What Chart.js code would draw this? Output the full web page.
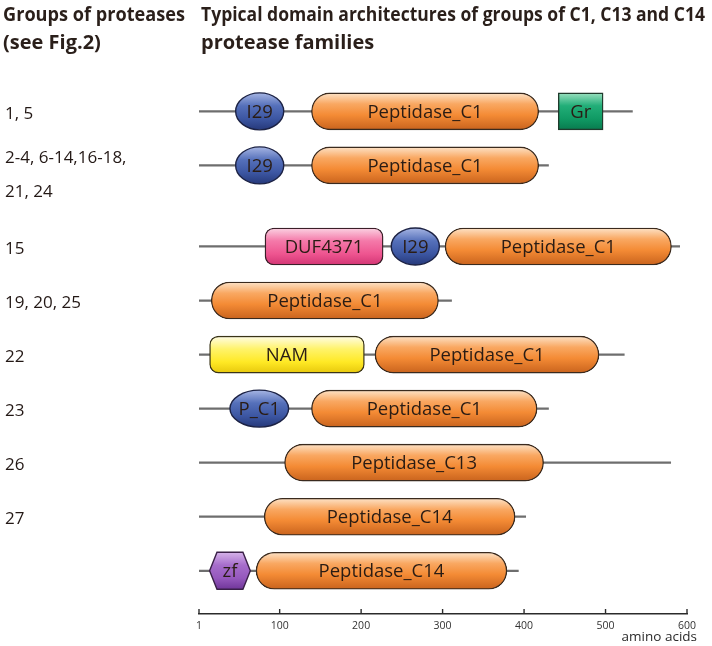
<!DOCTYPE html>
<html>
<head>
<meta charset="utf-8">
<script src="https://cdn.jsdelivr.net/npm/chart.js@4.4.1/dist/chart.umd.min.js"></script>
<style>
  html, body { margin: 0; padding: 0; background: #fff; }
  #wrap { width: 712px; height: 646px; position: relative; }
</style>
</head>
<body>
<div id="wrap"><canvas id="domains"></canvas></div>
<script>
// Groups of proteases, one per row (top to bottom)
const groups = [['1, 5'], ['2-4, 6-14,16-18,', '21, 24'], ['15'], ['19, 20, 25'], ['22'], ['23'], ['26'], ['27'], ['']];

// Protein backbone per row, in amino acids
const backbone = [[1, 533], [1, 430], [1, 591], [1, 311], [1, 523], [1, 430], [1, 580], [1, 402], [1, 393]];

// Domains as [row, start aa, end aa]
const peptidaseC1 = [[0, 139, 418], [1, 139, 418], [2, 303, 581], [3, 16, 295], [4, 217, 492], [5, 139, 416]];
const peptidaseC13 = [[6, 106, 424]];
const peptidaseC14 = [[7, 81, 389], [8, 71, 379]];
const inhibitorI29 = [[0, 46, 105], [1, 46, 105], [2, 237, 296]];
const propeptideC1 = [[5, 39, 111]];
const granulin = [[0, 442, 497]];
const duf4371 = [[2, 82, 227]];
const nam = [[4, 14, 204]];
const zincFinger = [[8, 14, 64]];

const axisTicks = [1, 100, 200, 300, 400, 500, 600];

const BAR = 37;
const FONT = "'Open Sans', sans-serif";
// row 2 has a two-line label, so leave a bit more room below it
const rowPos = i => i + (i >= 2 ? 0.5 : 0);

const orange = [[0, '#FDE3C8'], [0.3, '#F9A862'], [0.6, '#F48B35'], [1, '#C9631D']];
const blue = [[0, '#A6B5E3'], [0.35, '#5570BA'], [0.7, '#3C56A2'], [1, '#26397A']];
const green = [[0, '#9BE0C0'], [0.35, '#22AE78'], [0.7, '#109A64'], [1, '#087B4E']];
const pink = [[0, '#FBD3E3'], [0.35, '#F479A9'], [0.7, '#EE5590'], [1, '#D23574']];
const yellow = [[0, '#FFFDE8'], [0.35, '#FFF36A'], [0.7, '#FFE925'], [1, '#E7C80C']];
const purple = [[0, '#D6B3EA'], [0.35, '#A66DCB'], [0.7, '#9558BD'], [1, '#70369A']];

function vGradient(stops) {
  return (ctx) => {
    const chart = ctx.chart;
    if (ctx.type !== 'data' || !chart.scales.y) return stops[2][1];
    const cy = chart.scales.y.getPixelForValue(ctx.raw.y);
    if (!Number.isFinite(cy)) return stops[2][1];
    const g = chart.ctx.createLinearGradient(0, cy - BAR / 2, 0, cy + BAR / 2);
    stops.forEach(([o, c]) => g.addColorStop(o, c));
    return g;
  };
}

function domainSet(text, list, stops, shape, radius, edge) {
  const custom = shape === 'ellipse' || shape === 'hexagon';
  return {
    label: text,
    text: text,
    shape: shape,
    stops: stops,
    edge: edge || '#3a2a1e',
    data: list.map(([row, s, e]) => ({ x: [s, e], y: rowPos(row) })),
    backgroundColor: custom ? 'rgba(0,0,0,0)' : vGradient(stops),
    borderColor: custom ? 'rgba(0,0,0,0)' : (edge || '#3a2a1e'),
    borderWidth: custom ? 0 : 1.4,
    borderRadius: radius || 0,
    borderSkipped: false,
    barThickness: BAR,
    grouped: false,
    order: 1
  };
}

const datasets = [
  {
    label: 'backbone',
    data: backbone.map(([s, e], i) => ({ x: [s, e], y: rowPos(i) })),
    backgroundColor: '#6e6e6e',
    borderWidth: 0,
    barThickness: 1.6,
    grouped: false,
    order: 9
  },
  domainSet('Peptidase_C1', peptidaseC1, orange, 'bar', BAR / 2),
  domainSet('Peptidase_C13', peptidaseC13, orange, 'bar', BAR / 2),
  domainSet('Peptidase_C14', peptidaseC14, orange, 'bar', BAR / 2),
  domainSet('I29', inhibitorI29, blue, 'ellipse', 0, '#1c2244'),
  domainSet('P_C1', propeptideC1, blue, 'ellipse', 0, '#1c2244'),
  domainSet('Gr', granulin, green, 'bar', 0, '#1f3a2c'),
  domainSet('DUF4371', duf4371, pink, 'bar', 9, '#3a1e28'),
  domainSet('NAM', nam, yellow, 'bar', 9, '#3a3418'),
  domainSet('zf', zincFinger, purple, 'hexagon', 0, '#3a2048')
];

// draws ellipse / hexagon domains, labels, group names, titles and the aa ruler
const domainArt = {
  id: 'domainArt',
  afterDatasetDraw(chart, args) {
    const ds = chart.data.datasets[args.index];
    if (ds.shape !== 'ellipse' && ds.shape !== 'hexagon') return;
    const c = chart.ctx;
    args.meta.data.forEach((el) => {
      const { x, y, base } = el.getProps(['x', 'y', 'base'], true);
      if (!Number.isFinite(y)) return;
      const l = Math.min(x, base), r = Math.max(x, base), h = BAR;
      const g = c.createLinearGradient(0, y - h / 2, 0, y + h / 2);
      ds.stops.forEach(([o, col]) => g.addColorStop(o, col));
      c.save();
      c.beginPath();
      if (ds.shape === 'ellipse') {
        c.ellipse((l + r) / 2, y, (r - l) / 2, h / 2, 0, 0, Math.PI * 2);
      } else {
        const k = h * 0.2;
        c.moveTo(l, y);
        c.lineTo(l + k, y - h / 2);
        c.lineTo(r - k, y - h / 2);
        c.lineTo(r, y);
        c.lineTo(r - k, y + h / 2);
        c.lineTo(l + k, y + h / 2);
        c.closePath();
      }
      c.fillStyle = g;
      c.fill();
      c.lineWidth = 1.4;
      c.strokeStyle = ds.edge;
      c.stroke();
      c.restore();
    });
  },
  afterDatasetsDraw(chart) {
    const c = chart.ctx;
    c.save();
    c.font = '18.5px ' + FONT;
    c.fillStyle = '#2a1c14';
    c.textAlign = 'center';
    c.textBaseline = 'alphabetic';
    chart.data.datasets.forEach((ds, i) => {
      if (!ds.text) return;
      chart.getDatasetMeta(i).data.forEach((el) => {
        const { x, y, base } = el.getProps(['x', 'y', 'base'], true);
        c.fillText(ds.text, (x + base) / 2, y + 18.5 * 0.357);
      });
    });
    c.restore();
  },
  afterDraw(chart) {
    const c = chart.ctx;
    const xs = chart.scales.x, ys = chart.scales.y;
    const area = chart.chartArea;
    c.save();

    // titles
    c.fillStyle = '#2a1f1a';
    c.textAlign = 'left';
    c.textBaseline = 'alphabetic';
    c.font = 'bold 20px ' + FONT;
    c.fillText('Groups of proteases', 3, 21, 182);
    c.fillText('(see Fig.2)', 3, 49, 182);
    c.fillText('Typical domain architectures of groups of C1, C13 and C14', 201, 21, 504);
    c.fillText('protease families', 201, 49, 504);

    // group labels
    c.font = '17px ' + FONT;
    c.fillStyle = '#231815';
    groups.forEach((lines, i) => {
      const cy = ys.getPixelForValue(rowPos(i));
      const first = lines.length > 1 ? cy - 8.5 : cy + 1.5;
      lines.forEach((t, j) => c.fillText(t, 5, first + j * 34 + 17 * 0.357));
    });

    // ruler ticks point upward from the axis line
    c.strokeStyle = '#2b2b2b';
    c.lineWidth = 1.4;
    xs.ticks.forEach((t) => {
      const px = xs.getPixelForValue(t.value);
      c.beginPath();
      c.moveTo(px, area.bottom - 5);
      c.lineTo(px, area.bottom);
      c.stroke();
    });

    c.font = '13.5px ' + FONT;
    c.fillStyle = '#2b2b2b';
    c.textAlign = 'right';
    c.fillText('amino acids', 697, 641);
    c.restore();
  }
};

new Chart(document.getElementById('domains'), {
  type: 'bar',
  data: { datasets },
  plugins: [domainArt],
  options: {
    indexAxis: 'y',
    responsive: true,
    maintainAspectRatio: false,
    animation: false,
    layout: { padding: { top: 60, left: 199, right: 25, bottom: 0 } },
    scales: {
      x: {
        type: 'linear',
        position: 'bottom',
        min: 1,
        max: 600,
        offset: false,
        afterBuildTicks: (scale) => { scale.ticks = axisTicks.map((v) => ({ value: v })); },
        afterFit: (scale) => { scale.height = 32; },
        grid: { display: false, drawTicks: false },
        border: { display: true, color: '#2b2b2b', width: 1.4 },
        ticks: {
          padding: 6,
          color: '#333',
          font: { family: FONT, size: 10.5 },
          callback: (v) => v
        }
      },
      y: {
        type: 'linear',
        reverse: true,
        offset: false,
        grid: { offset: false },
        min: -0.95,
        max: 9.3,
        display: false
      }
    },
    plugins: {
      legend: { display: false },
      tooltip: { enabled: false }
    }
  }
});
</script>
</body>
</html>
